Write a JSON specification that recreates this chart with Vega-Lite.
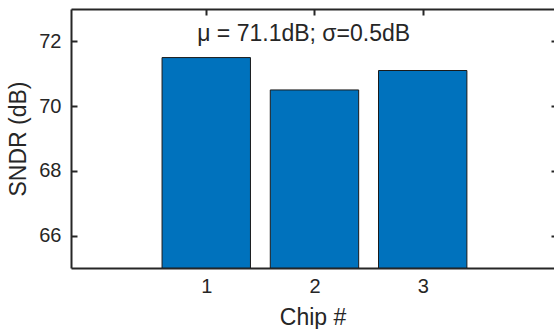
{
  "$schema": "https://vega.github.io/schema/vega-lite/v6.json",
  "autosize": {"type": "none"},
  "padding": {"left": 71, "top": 9, "right": 0, "bottom": 61},
  "width": 483,
  "height": 259,
  "background": "white",
  "config": {
    "view": {"stroke": null},
    "font": "Liberation Sans",
    "axis": {
      "grid": false,
      "domainColor": "#262626",
      "domainWidth": 2,
      "tickColor": "#262626",
      "tickWidth": 2,
      "tickSize": -6,
      "labelColor": "#262626",
      "labelFont": "Liberation Sans",
      "labelFontSize": 20,
      "titleColor": "#262626",
      "titleFont": "Liberation Sans",
      "titleFontSize": 23,
      "titleFontWeight": "normal"
    }
  },
  "data": {
    "values": [
      {"chip": 1, "sndr": 71.5},
      {"chip": 2, "sndr": 70.5},
      {"chip": 3, "sndr": 71.1}
    ]
  },
  "resolve": {"axis": {"x": "independent", "y": "independent"}},
  "layer": [
    {
      "mark": {"type": "bar", "width": 88.4, "color": "#0072BD", "stroke": "#1a1a1a", "strokeWidth": 1, "clip": true},
      "encoding": {
        "x": {
          "field": "chip",
          "type": "quantitative",
          "scale": {"domain": [-0.2036, 4.167], "nice": false, "zero": false},
          "axis": {"values": [1, 2, 3], "title": "Chip #", "labelPadding": 14, "titlePadding": 10, "format": "d"}
        },
        "y": {
          "field": "sndr",
          "type": "quantitative",
          "scale": {"domain": [65, 73], "nice": false, "zero": false},
          "axis": {"values": [66, 68, 70, 72], "title": "SNDR (dB)", "labelPadding": 16, "titlePadding": 8}
        },
        "y2": {"datum": 65}
      }
    },
    {
      "data": {"values": [{"x": 1.9, "y": 72.0, "label": "μ = 71.1dB; σ=0.5dB"}]},
      "mark": {"type": "text", "fontSize": 23, "color": "#262626", "align": "center", "baseline": "alphabetic", "font": "Liberation Sans"},
      "encoding": {
        "x": {
          "field": "x",
          "type": "quantitative",
          "axis": {"orient": "top", "values": [1, 2, 3], "labels": false, "title": null}
        },
        "y": {
          "field": "y",
          "type": "quantitative",
          "axis": {"orient": "right", "values": [66, 68, 70, 72], "labels": false, "title": null, "domain": false, "tickSize": -3}
        },
        "text": {"field": "label"}
      }
    }
  ]
}
